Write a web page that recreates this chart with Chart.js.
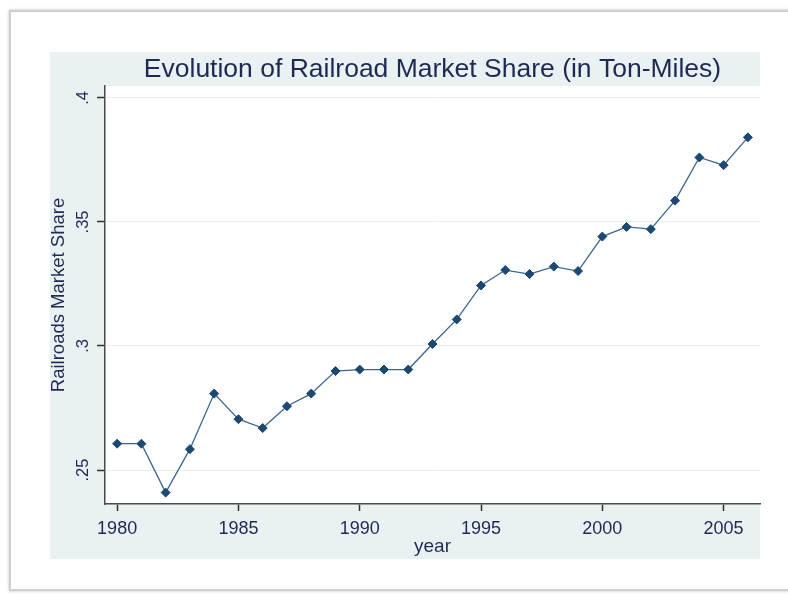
<!DOCTYPE html>
<html>
<head>
<meta charset="utf-8">
<script src="https://cdn.jsdelivr.net/npm/chart.js@4/dist/chart.umd.min.js"></script>
<style>
  html, body { margin: 0; padding: 0; background: #fff; overflow: hidden; }
  #frame {
    position: absolute; left: 9px; top: 10px; width: 900px; height: 581px;
    box-sizing: border-box; border: 2px solid #cfcfcf;
    box-shadow: 0 0 3px rgba(0,0,0,0.25);
  }
  #wrap { position: absolute; left: 0; top: 0; width: 788px; height: 594px; }
</style>
</head>
<body>
<div id="frame"></div>
<div id="wrap"><canvas id="line_chart" width="788" height="594"></canvas></div>
<script>
// values
var years = [1980, 1981, 1982, 1983, 1984, 1985, 1986, 1987, 1988, 1989,
             1990, 1991, 1992, 1993, 1994, 1995, 1996, 1997, 1998, 1999,
             2000, 2001, 2002, 2003, 2004, 2005, 2006];
var share = [0.2606, 0.2606, 0.2409, 0.2584, 0.2808, 0.2705, 0.2669, 0.2757, 0.2808, 0.2899,
             0.2905, 0.2905, 0.2905, 0.3008, 0.3107, 0.3244, 0.3306, 0.3290, 0.3320, 0.3302,
             0.3441, 0.3480, 0.3471, 0.3586, 0.3760, 0.3729, 0.3841];
var xTicks = [1980, 1985, 1990, 1995, 2000, 2005];
var yTicks = [0.25, 0.3, 0.35, 0.4];
var yTickLabels = ['.25', '.3', '.35', '.4'];

var pad = { left: 50, top: 52, right: 28, bottom: 35 };
var textColor = '#1e2a52';
var mainFont = "'Liberation Sans', Arial, sans-serif";

// grey-blue panel behind the chart, white plot region
var panelPlugin = {
    id: 'panel',
    beforeDraw: function (chart) {
        var ctx = chart.ctx, a = chart.chartArea;
        ctx.save();
        ctx.fillStyle = '#e9f1f3';
        ctx.fillRect(pad.left, pad.top, chart.width - pad.left - pad.right, chart.height - pad.top - pad.bottom);
        ctx.fillStyle = '#ffffff';
        ctx.fillRect(a.left, a.top, a.right - a.left, a.bottom - a.top);
        ctx.restore();
    }
};

var ctx = document.getElementById('line_chart').getContext('2d');
var myChart = new Chart(ctx, {
    type: 'line',
    data: {
        datasets: [{
            label: 'Railroads Market Share',
            data: years.map(function (y, i) { return { x: y, y: share[i] }; }),
            fill: false,
            borderColor: '#3a6690',
            borderWidth: 1.3,
            tension: 0,
            pointStyle: 'rectRot',
            pointRadius: 4.5,
            pointBackgroundColor: '#1c4872',
            pointBorderColor: '#1c4872',
            pointBorderWidth: 1
        }]
    },
    options: {
        responsive: false,
        animation: false,
        layout: { padding: pad },
        plugins: {
            legend: { display: false },
            tooltip: { enabled: false },
            title: {
                display: true,
                fullSize: false,
                text: 'Evolution of Railroad Market Share (in Ton-Miles)',
                color: textColor,
                font: { family: mainFont, size: 26.5, weight: 'normal', lineHeight: 1.2 },
                padding: { top: 1.6, bottom: 0.6 }
            }
        },
        scales: {
            x: {
                type: 'linear',
                min: 1979.5,
                max: 2006.5,
                afterBuildTicks: function (scale) {
                    scale.ticks = xTicks.map(function (v) { return { value: v }; });
                },
                afterFit: function (scale) { scale.height = 55; },
                border: { color: '#4a4a4a', width: 1.5 },
                grid: { drawOnChartArea: false, drawTicks: true, tickLength: 7, tickColor: '#333', tickWidth: 1.5 },
                ticks: {
                    color: textColor,
                    font: { family: mainFont, size: 18 },
                    padding: 7,
                    maxRotation: 0,
                    callback: function (v) { return String(v); }
                },
                title: {
                    display: true,
                    text: 'year',
                    color: textColor,
                    font: { family: mainFont, size: 19 },
                    padding: { top: 0, bottom: 0.6 }
                }
            },
            y: {
                min: 0.2363,
                max: 0.4048,
                afterBuildTicks: function (scale) {
                    scale.ticks = yTicks.map(function (v) { return { value: v }; });
                },
                afterFit: function (scale) { scale.width = 55; },
                border: { color: '#4a4a4a', width: 1.5 },
                grid: { color: '#e6eff1', lineWidth: 1, drawTicks: true, tickLength: 8, tickColor: '#333', tickWidth: 1.5 },
                ticks: {
                    color: textColor,
                    font: { family: mainFont, size: 16.5 },
                    minRotation: 90,
                    maxRotation: 90,
                    crossAlign: 'center',
                    padding: 2,
                    callback: function (v) {
                        var i = yTicks.indexOf(v);
                        return i >= 0 ? yTickLabels[i] : '';
                    }
                },
                title: {
                    display: true,
                    text: 'Railroads Market Share',
                    color: textColor,
                    font: { family: mainFont, size: 18.5, lineHeight: 1 },
                    padding: { top: 0, bottom: 0 }
                }
            }
        }
    },
    plugins: [panelPlugin]
});
</script>
</body>
</html>
